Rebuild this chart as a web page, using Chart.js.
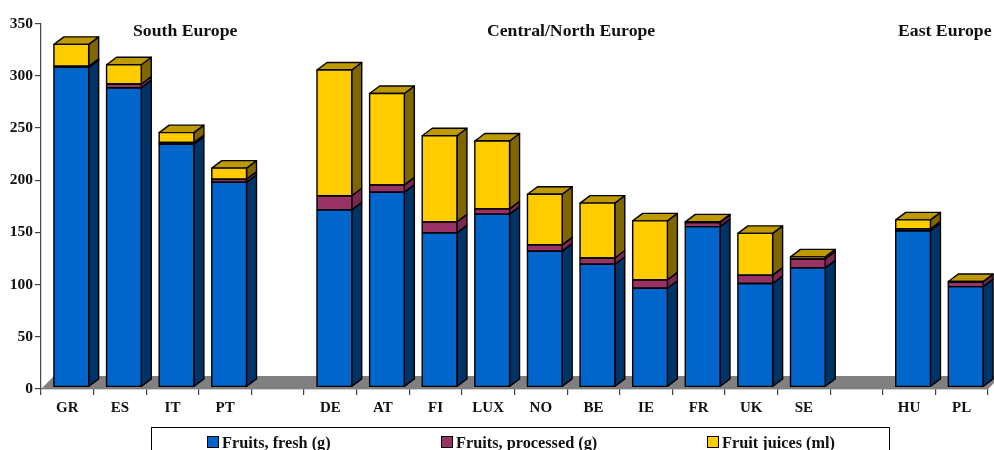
<!DOCTYPE html>
<html lang="en">
<head>
  <meta charset="UTF-8" />
  <title>Fruit intake in Europe</title>
  <script src="https://cdn.jsdelivr.net/npm/chart.js"></script>
  <style>
    html, body { margin: 0; background: #fff; overflow: hidden; }
    canvas { display: block; }
  </style>
</head>
<body>
  <canvas id="fruitChart" width="994" height="450"></canvas>

  <script>
    // Values (blank slots are the gaps between regions)
    const categories = ['GR', 'ES', 'IT', 'PT', '', 'DE', 'AT', 'FI', 'LUX', 'NO', 'BE', 'IE', 'FR', 'UK', 'SE', '', 'HU', 'PL'];
    const fresh =     [308, 288.5, 234.5, 198, null, 171.5, 188.5, 149.5, 167.5, 132, 119.5, 96.5, 155.5, 101, 116, null, 151.5, 98];
    const processed = [1, 3.5, 1.5, 3, null, 13.5, 7, 10.5, 5, 6, 6, 8, 4, 8, 8.5, null, 2, 4.5];
    const juices =    [21, 18.5, 9.5, 10.5, null, 120.5, 87.5, 82.5, 65, 48.5, 52.5, 56.5, 0.5, 40, 2, null, 8.5, 0.5];
    const seriesNames = ['Fruits, fresh (g)', 'Fruits, processed (g)', 'Fruit juices (ml)'];
    const yTicks = [0, 50, 100, 150, 200, 250, 300, 350];
    const regions = ['South Europe', 'Central/North Europe', 'East Europe'];

    const frontColors = ['#0066cc', '#993366', '#ffcc00'];
    const sideColors = ['#003366', '#7a2850', '#806600'];
    const topColor = '#bf9900';
    const serif = "'Liberation Serif', serif";

    const DEPTH_X = 10, DEPTH_Y = 7.5, SHIFT_X = 4, EDGE = 1.4;

    function face(ctx, pts, fill) {
      ctx.beginPath();
      pts.forEach((p, i) => i ? ctx.lineTo(p[0], p[1]) : ctx.moveTo(p[0], p[1]));
      ctx.closePath();
      ctx.fillStyle = fill;
      ctx.fill();
      ctx.stroke();
    }

    const scene = {
      id: 'scene',
      beforeDatasetsDraw(chart) {
        const ctx = chart.ctx;
        const { left, right, bottom } = chart.chartArea;

        // grey floor
        ctx.save();
        ctx.fillStyle = '#808080';
        ctx.beginPath();
        ctx.moveTo(left, bottom);
        ctx.lineTo(left + 13, bottom - 13);
        ctx.lineTo(right + 13, bottom - 13);
        ctx.lineTo(right, bottom);
        ctx.closePath();
        ctx.fill();
        ctx.restore();

        // bars sit a little to the right of their tick slot
        ctx.save();
        ctx.translate(SHIFT_X, 0);
        ctx.strokeStyle = '#000';
        ctx.lineWidth = EDGE;
        ctx.lineJoin = 'round';
        categories.forEach((c, i) => {
          let last = null;
          chart.data.datasets.forEach((ds, d) => {
            const bar = chart.getDatasetMeta(d).data[i];
            if (ds.data[i] == null) return;
            const r = bar.x + bar.width / 2;
            face(ctx, [[r, bar.base], [r + DEPTH_X, bar.base - DEPTH_Y], [r + DEPTH_X, bar.y - DEPTH_Y], [r, bar.y]], sideColors[d]);
            last = bar;
          });
          if (last) {
            const l = last.x - last.width / 2, r = last.x + last.width / 2;
            face(ctx, [[l, last.y], [l + DEPTH_X, last.y - DEPTH_Y], [r + DEPTH_X, last.y - DEPTH_Y], [r, last.y]], topColor);
          }
        });
      },
      afterDatasetsDraw(chart) {
        const ctx = chart.ctx;

        // outlines stroked here, the bar's own border doubles up between segments
        ctx.strokeStyle = '#000';
        ctx.lineWidth = EDGE;
        chart.data.datasets.forEach((ds, d) => {
          chart.getDatasetMeta(d).data.forEach((bar, i) => {
            if (ds.data[i] == null) return;
            ctx.strokeRect(bar.x - bar.width / 2, bar.y, bar.width, bar.base - bar.y);
          });
        });
        ctx.restore();

        // region headings
        ctx.save();
        ctx.fillStyle = '#111';
        ctx.font = 'bold 17.7px ' + serif;
        ctx.textBaseline = 'alphabetic';
        ctx.fillText(regions[0], 133, 36);
        ctx.fillText(regions[1], 487, 36);
        ctx.fillText(regions[2], 898, 36);

        // legend box runs off the bottom of the page
        ctx.strokeStyle = '#000';
        ctx.lineWidth = 1;
        ctx.strokeRect(151.5, 427.5, 738, 40);
        ctx.font = 'bold 16.3px ' + serif;
        [207, 441, 707].forEach((x, i) => {
          ctx.fillStyle = frontColors[i];
          ctx.fillRect(x + 0.5, 436.5, 11, 11);
          ctx.strokeRect(x + 0.5, 436.5, 11, 11);
          ctx.fillStyle = '#111';
          ctx.fillText(seriesNames[i], x + 15, 448);
        });
        ctx.restore();
      }
    };

    new Chart(document.getElementById('fruitChart'), {
      type: 'bar',
      data: {
        labels: categories,
        datasets: [fresh, processed, juices].map((values, i) => ({
          label: seriesNames[i],
          data: values,
          backgroundColor: frontColors[i],
          borderWidth: 0,
          clip: false,
          // front of the bars stands slightly above the axis line
          base: i === 0 ? 2.5 : undefined
        }))
      },
      options: {
        responsive: false,
        animation: false,
        layout: { padding: { top: 23.5, right: 6, left: 0, bottom: 0 } },
        plugins: { legend: { display: false }, tooltip: { enabled: false } },
        datasets: { bar: { barPercentage: 0.66, categoryPercentage: 1 } },
        scales: {
          x: {
            stacked: true,
            afterFit: s => { s.height = 61; },
            border: { color: '#444', width: 1.2 },
            grid: { drawOnChartArea: false, color: '#444', tickLength: 6, lineWidth: 1.2 },
            ticks: {
              autoSkip: false, maxRotation: 0, padding: 4, color: '#111',
              font: { family: serif, weight: 'bold', size: 15 }
            }
          },
          y: {
            stacked: true,
            min: 0,
            max: 350,
            afterFit: s => { s.width = 41; },
            afterBuildTicks: s => { s.ticks = yTicks.map(v => ({ value: v })); },
            border: { color: '#444', width: 1.2 },
            grid: { drawOnChartArea: false, color: '#444', tickLength: 6, lineWidth: 1.2 },
            ticks: {
              padding: 2, color: '#111',
              font: { family: serif, weight: 'bold', size: 15.5 }
            }
          }
        }
      },
      plugins: [scene]
    });
  </script>
</body>
</html>
